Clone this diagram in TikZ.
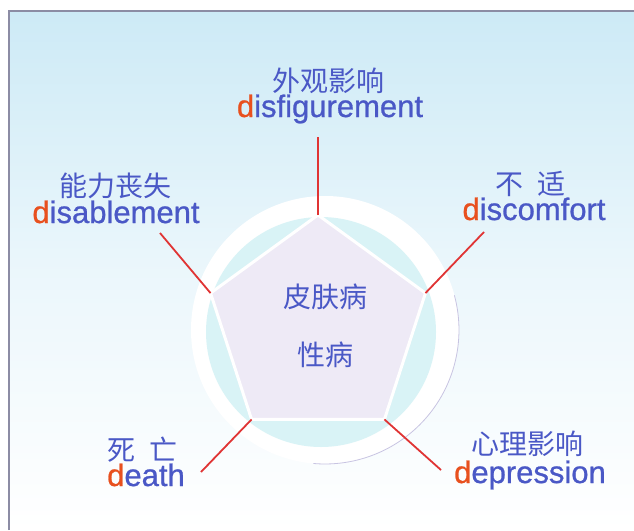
\documentclass[tikz,border=0pt]{standalone}
\usepackage{fontspec}
\setmainfont{Liberation Sans}
\newfontfamily\enfont[FakeBold=0.8]{Liberation Sans}
\newfontfamily\cjk{Noto Sans CJK SC}
\usetikzlibrary{shapes.geometric}
\definecolor{txtblue}{HTML}{4A58C6}
\definecolor{dred}{HTML}{E8501E}
\definecolor{spokec}{HTML}{E03434}
\definecolor{bgtop}{HTML}{CDEAF6}
\definecolor{discc}{HTML}{D9F3F6}
\definecolor{pentfill}{HTML}{EEEAF6}
\definecolor{ringedge}{HTML}{C8C4E2}
\definecolor{framec}{HTML}{8C8CA4}
\newcommand{\rd}{\textcolor{dred}{d}}
\begin{document}
\begin{tikzpicture}[x=1pt,y=-1pt,
  cjklabel/.style={font=\cjk\fontsize{28}{30}\selectfont, text=txtblue, inner sep=0, anchor=center},
  enlabel/.style={font=\enfont\fontsize{31}{34}\selectfont, text=txtblue, inner sep=0, anchor=base},
  spoke/.style={draw=spokec, line width=1.8pt}]
\useasboundingbox (0,0) rectangle (634,530);
\fill[white] (0,0) rectangle (634,530);
\shade[top color=bgtop, bottom color=white, middle color=bgtop!40!white] (9,11) rectangle (634,530);
\draw[framec, line width=1.2pt] (9,530) -- (9,11) -- (634,11);
% ring and disc
\node[circle, fill=white, minimum size=268, inner sep=0] (ring) at (325,330) {};
\draw[ringedge, line width=0.8pt] (454.4,295.3) arc[start angle=-15, end angle=95, radius=134];
\node[circle, fill=discc, minimum size=230, inner sep=0] (disc) at (321,332) {};
\node[regular polygon, regular polygon sides=5, minimum size=226, fill=pentfill, draw=white, line width=3pt, inner sep=0, outer sep=0] (pent) at (318,328) {};
\node[font=\cjk\fontsize{28}{58}\selectfont, text=txtblue, align=center, inner sep=0] (ctext) at (325,326) {皮肤病\\性病};
% spoke ends
\coordinate (e1) at (318,137);
\coordinate (e2) at (160,233);
\coordinate (e3) at (201,472);
\coordinate (e4) at (441,470);
\coordinate (e5) at (484,232);
\draw[spoke] (pent.corner 1) -- (e1);
\draw[spoke] (pent.corner 2) -- (e2);
\draw[spoke] (pent.corner 3) -- (e3);
\draw[spoke] (pent.corner 4) -- (e4);
\draw[spoke] (pent.corner 5) -- (e5);
% labels
\node[cjklabel] (c1) at (328,81) {外观影响};
\node[enlabel] (l1) at (330,117) {\rd isfigurement};
\node[cjklabel] (c2) at (115,186) {能力丧失};
\node[enlabel] (l2) at (116,223) {\rd isablement};
\node[cjklabel] (c5) at (530,184) {不\hspace{14pt}适};
\node[enlabel] (l5) at (534,220) {\rd iscomfort};
\node[cjklabel] (c3) at (142,450) {死\hspace{14pt}亡};
\node[enlabel] (l3) at (146,486) {\rd eath};
\node[cjklabel] (c4) at (527,444) {心理影响};
\node[enlabel] (l4) at (530,483) {\rd epression};
\end{tikzpicture}
\end{document}
